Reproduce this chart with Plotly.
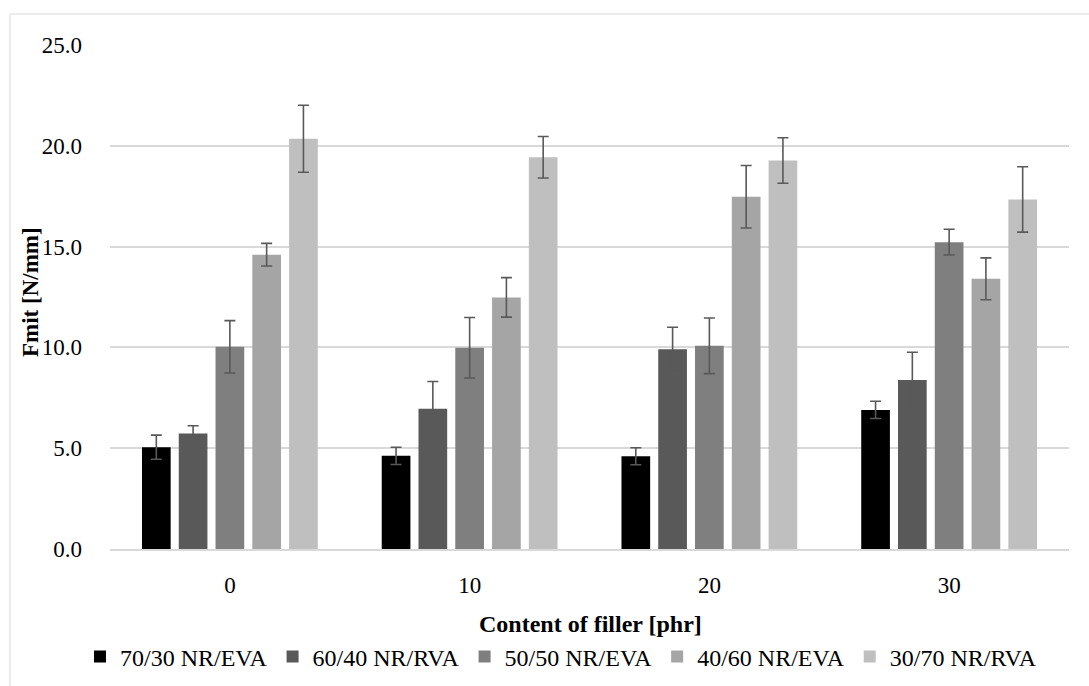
import plotly.graph_objects as go

categories = ["0", "10", "20", "30"]
series_names = ["70/30 NR/EVA", "60/40 NR/RVA", "50/50 NR/EVA", "40/60 NR/EVA", "30/70 NR/RVA"]
s1 = [5.05, 4.62, 4.60, 6.90]
s2 = [5.73, 6.96, 9.91, 8.38]
s3 = [10.03, 9.98, 10.08, 15.22]
s4 = [14.60, 12.48, 17.47, 13.40]
s5 = [20.35, 19.43, 19.27, 17.34]
e1 = [0.60, 0.43, 0.42, 0.43]
e2 = [0.38, 1.35, 1.09, 1.38]
e3 = [1.30, 1.50, 1.38, 0.64]
e4 = [0.56, 0.98, 1.55, 1.04]
e5 = [1.66, 1.03, 1.13, 1.62]
colors = ["#000000", "#595959", "#7f7f7f", "#a5a5a5", "#bfbfbf"]
x_title = "Content of filler [phr]"
y_title = "Fmit [N/mm]"

FONT = "Liberation Serif"
fig = go.Figure()
for name, vals, errs, col in zip(series_names, [s1, s2, s3, s4, s5], [e1, e2, e3, e4, e5], colors):
    fig.add_trace(go.Bar(
        x=categories, y=vals, name=name,
        marker=dict(color=col, line=dict(width=0)),
        error_y=dict(type="data", array=errs, visible=True, color="#595959", thickness=1.6, width=5.5),
    ))

T, B, L, R = 45, 137, 110, 20
PLOT_H = 686 - T - B
PLOT_W = 1089 - L - R
Y0 = 686 - B

fig.update_layout(
    width=1089, height=686,
    margin=dict(l=L, r=R, t=T, b=B, autoexpand=False),
    paper_bgcolor="white", plot_bgcolor="white",
    barmode="group", bargap=0.233, bargroupgap=0.22,
    font=dict(family=FONT, size=23, color="#000000"),
    showlegend=True,
    legend=dict(orientation="h", x=(561 - L) / PLOT_W, xanchor="center", y=-(657 - Y0) / PLOT_H,
                yanchor="middle", font=dict(family=FONT, size=24), itemwidth=30, traceorder="normal"),
    xaxis=dict(showgrid=False, ticks="", showline=True, linecolor="#d9d9d9", linewidth=1.5,
               ticklabelstandoff=15, automargin=False),
    yaxis=dict(range=[0, 25], dtick=5, tickformat=".1f", showgrid=True, gridcolor="#d9d9d9", gridwidth=1.5,
               zeroline=False, showline=False, ticks="", ticklabelstandoff=27, automargin=False),
    annotations=[
        dict(text="<b>" + x_title + "</b>", xref="paper", yref="paper", x=(590 - L) / PLOT_W,
             y=-(624 - Y0) / PLOT_H, xanchor="center", yanchor="middle", showarrow=False,
             font=dict(family=FONT, size=24)),
        dict(text="<b>" + y_title + "</b>", xref="paper", yref="paper", x=-(L - 30) / PLOT_W,
             y=(Y0 - 292) / PLOT_H, xanchor="center", yanchor="middle", showarrow=False, textangle=-90,
             font=dict(family=FONT, size=23)),
    ],
    shapes=[dict(type="rect", xref="paper", yref="paper", x0=-(L - 10) / PLOT_W, x1=1.05, y0=-0.5,
                 y1=1 + (T - 14) / PLOT_H,
                 line=dict(color="#d9d9d9", width=1), fillcolor="rgba(0,0,0,0)", layer="below")],
)

fig.write_html("out.html")
